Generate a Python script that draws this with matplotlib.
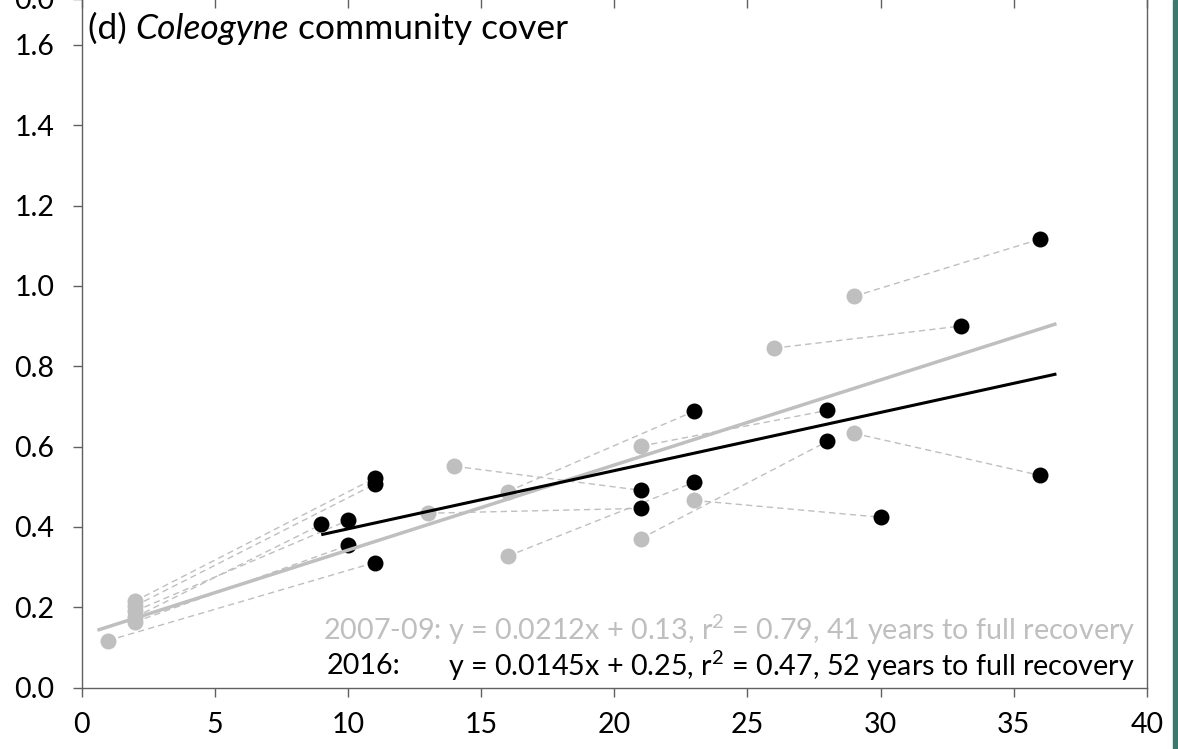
import matplotlib
matplotlib.use("Agg")
import matplotlib.pyplot as plt
import numpy as np

# ---- data ----
# Each index i is one site: 2007-09 measurement (gray) and 2016 measurement (black)
gray_x = [1, 2, 2, 2, 2, 2, 13, 14, 16, 16, 21, 21, 23, 26, 29, 29]
gray_y = [0.117, 0.215, 0.203, 0.190, 0.175, 0.163, 0.434, 0.551, 0.488, 0.327,
          0.601, 0.371, 0.466, 0.845, 0.974, 0.633]
black_x = [11, 11, 11, 10, 9, 10, 21, 21, 23, 23, 28, 28, 30, 33, 36, 36]
black_y = [0.311, 0.521, 0.506, 0.416, 0.406, 0.354, 0.446, 0.491, 0.688, 0.511,
           0.690, 0.613, 0.424, 0.900, 1.117, 0.528]

gray_fit = (0.0212, 0.13)      # slope, intercept (2007-09)
black_fit = (0.0145, 0.25)     # slope, intercept (2016)
gray_fit_range = (0.6, 36.6)
black_fit_range = (9.0, 36.6)

x_ticks = [0, 5, 10, 15, 20, 25, 30, 35, 40]
y_ticks = [0.0, 0.2, 0.4, 0.6, 0.8, 1.0, 1.2, 1.4, 1.6]
y_tick_labels = ["0.0", "0.2", "0.4", "0.6", "0.8", "1.0", "1.2", "1.4", "1.6"]

title_prefix = "(d) "
title_italic = "Coleogyne"
title_suffix = " community cover"
gray_label = "2007-09: y = 0.0212x + 0.13, r$^2$ = 0.79, 41 years to full recovery"
black_label_year = "2016:"
black_label_eq = "y = 0.0145x + 0.25, r$^2$ = 0.47, 52 years to full recovery"

# ---- style ----
plt.rcParams['font.family'] = ['Lato', 'DejaVu Sans']
plt.rcParams['mathtext.fontset'] = 'custom'
plt.rcParams['mathtext.rm'] = 'Lato'
plt.rcParams['mathtext.it'] = 'Lato:italic'
plt.rcParams['mathtext.bf'] = 'Lato:bold'

GRAY = "#bfbfbf"
SPINE = "#606060"
W, H = 1178, 749
fig = plt.figure(figsize=(W / 100, H / 100), dpi=100)
fig.patch.set_facecolor("white")

def fx(px):
    return px / W

def fy(py):
    return 1 - py / H

ax_left, ax_right, ax_bottom = 81.5, 1147, 687.5
ax = fig.add_axes([fx(ax_left), fy(ax_bottom), fx(ax_right - ax_left), 1 - fy(ax_bottom)])
ax.set_xlim(0, 40)
ax.set_ylim(0, 1.712)

# dashed connectors
for gx, gy, bx, by in zip(gray_x, gray_y, black_x, black_y):
    ax.plot([gx, bx], [gy, by], color=GRAY, lw=1.0, dashes=(4.5, 3), zorder=1)

ax.plot(gray_x, gray_y, 'o', color=GRAY, ms=11.5, mec='none', zorder=3)
ax.plot(black_x, black_y, 'o', color='black', ms=11.5, mec='none', zorder=3)

gxr = np.array(gray_fit_range)
ax.plot(gxr, gray_fit[0] * gxr + gray_fit[1], color=GRAY, lw=2.5, zorder=4, solid_capstyle='butt')
bxr = np.array(black_fit_range)
ax.plot(bxr, black_fit[0] * bxr + black_fit[1], color='black', lw=2.2, zorder=5, solid_capstyle='butt')

ax.set_xticks(x_ticks)
ax.set_yticks(y_ticks)
ax.set_yticklabels(y_tick_labels)
ax.tick_params(axis='both', direction='out', length=6.5, width=1, color=SPINE,
               labelsize=20.5)
ax.tick_params(axis='x', pad=11)
ax.tick_params(axis='y', pad=13)
for s in ['left', 'bottom', 'right']:
    ax.spines[s].set_color(SPINE)
    ax.spines[s].set_linewidth(1)
ax.spines['top'].set_visible(False)

# panel above (mostly outside the figure)
ax2 = fig.add_axes([fx(ax_left), 1 + 1.5 / H, fx(ax_right - ax_left), 0.4])
ax2.set_xlim(0, 40)
ax2.set_ylim(0, 1)
ax2.set_xticks(x_ticks)
ax2.set_xticklabels([])
ax2.set_yticks([0])
ax2.set_yticklabels(["0.0"])
ax2.tick_params(axis='both', direction='out', length=6.5, width=1, color=SPINE,
                labelsize=20.5, pad=13)
for s in ax2.spines.values():
    s.set_color(SPINE)

# title
TS = 25.5
t = fig.text(fx(88), fy(29), title_prefix, fontsize=TS, va='center', ha='left')
fig.canvas.draw()
r = fig.canvas.get_renderer()
bb = t.get_window_extent(r)
t2 = fig.text(bb.x1 / W, fy(29), title_italic, fontsize=TS, va='center', ha='left', style='italic')
bb2 = t2.get_window_extent(r)
fig.text(bb2.x1 / W, fy(29), title_suffix, fontsize=TS, va='center', ha='left')

# equations
ES = 20.7
fig.text(fx(1135), fy(630), gray_label, color=GRAY, fontsize=ES, ha='right', va='center')
fig.text(fx(327), fy(666), black_label_year, color='black', fontsize=ES, ha='left', va='center')
fig.text(fx(1135), fy(666), black_label_eq, color='black', fontsize=ES, ha='right', va='center')

# dark green strip at right edge
fig.add_artist(plt.Rectangle((fx(1173), 0), fx(5), 1, transform=fig.transFigure,
                             color="#3a7a6c", zorder=10))

fig.savefig("out.png", dpi=100)
